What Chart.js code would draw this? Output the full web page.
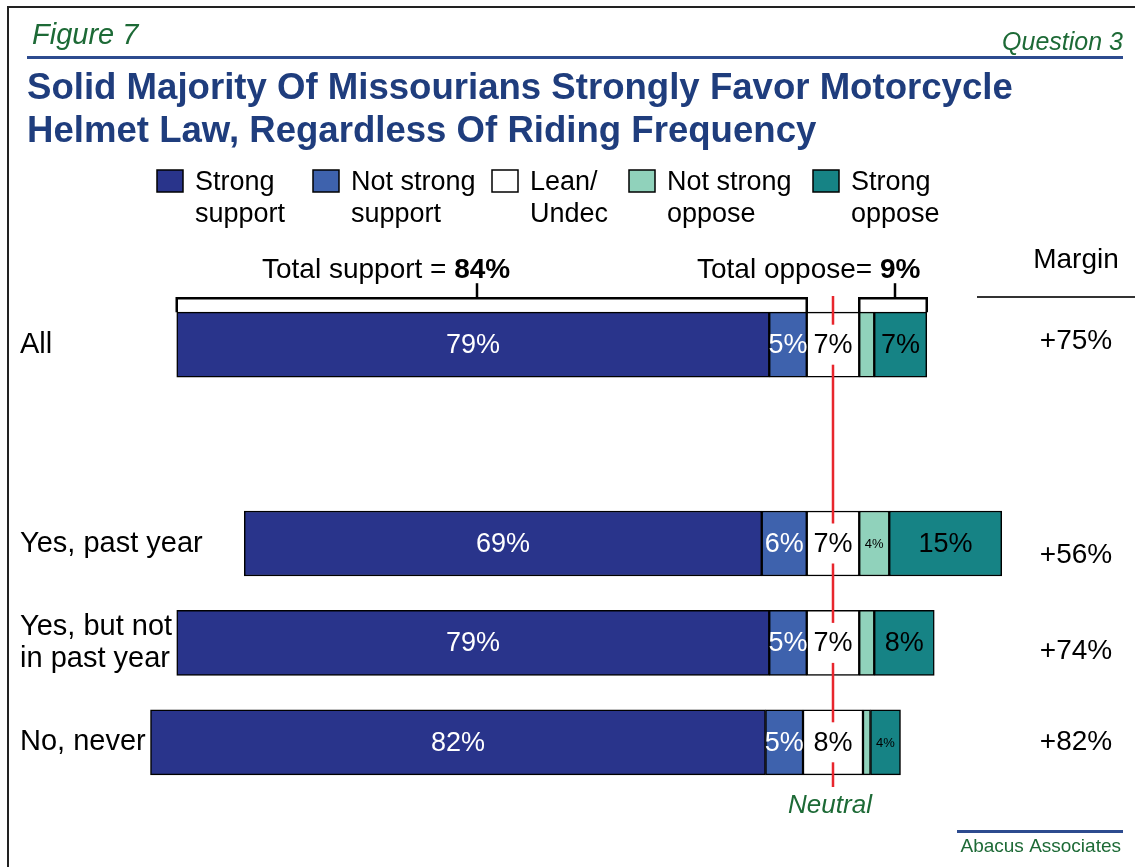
<!DOCTYPE html>
<html><head><meta charset="utf-8">
<script src="https://cdn.jsdelivr.net/npm/chart.js@4/dist/chart.umd.min.js"></script>
<style>html,body{margin:0;padding:0;background:#fff}#wrap{position:relative;width:1135px;height:867px}</style>
</head><body><div id="wrap"><canvas id="c"></canvas></div>
<script>
// ---- data ----
const categories = ['All', '', 'Yes, past year', ['Yes, but not', 'in past year'], 'No, never'];
const seriesNames = [['Strong', 'support'], ['Not strong', 'support'], ['Lean/', 'Undec'], ['Not strong', 'oppose'], ['Strong', 'oppose']];
const strongSupport    = [79, null, 69, 79, 82];
const notStrongSupport = [5,  null, 6,  5,  5];
const leanUndec        = [7,  null, 7,  7,  8];
const notStrongOppose  = [2,  null, 4,  2,  1];
const strongOppose     = [7,  null, 15, 8,  4];
const margins          = [75, null, 56, 74, 82];
const totalSupport = 84;
const totalOppose = 9;

// ---- styles ----
const FONT = '"Liberation Sans", Arial, Helvetica, sans-serif';
const colors = ['#29348b', '#3e62ad', '#ffffff', '#90d2bb', '#168385'];
const labelColors = ['#ffffff', '#ffffff', '#000000', '#000000', '#000000'];
const GREEN = '#1d6a36';
const BLUE_TITLE = '#1f3d7d';
const BLUE_RULE = '#2d4b8f';
const marginDy = [-3, 0, 12, 8, 0];

const series = [strongSupport, notStrongSupport, leanUndec, notStrongOppose, strongOppose];
const ranges = series.map(() => []);
categories.forEach((c, i) => {
  if (leanUndec[i] == null) { ranges.forEach(r => r.push(null)); return; }
  let start = -leanUndec[i] / 2 - notStrongSupport[i] - strongSupport[i];
  series.forEach((s, k) => { ranges[k].push([start, start + s[i]]); start += s[i]; });
});

const overlay = {
  id: 'overlay',
  afterDatasetsDraw(chart) {
    const ctx = chart.ctx, xs = chart.scales.x, area = chart.chartArea;
    const cx = xs.getPixelForValue(0);
    ctx.save();
    // neutral line
    ctx.strokeStyle = '#e8262d'; ctx.lineWidth = 2.5;
    ctx.beginPath(); ctx.moveTo(cx, area.top + 1); ctx.lineTo(cx, area.bottom - 5); ctx.stroke();
    // segment labels
    series.forEach((s, k) => {
      const meta = chart.getDatasetMeta(k);
      meta.data.forEach((el, i) => {
        const v = s[i];
        if (v == null || v < 3) return;
        const mx = (el.x + el.base) / 2, my = el.y;
        const small = v < 5;
        ctx.font = (small ? '13px ' : '27px ') + FONT;
        const txt = v + '%';
        if (k === 2) {
          const w = ctx.measureText(txt).width + 6;
          ctx.fillStyle = '#fff'; ctx.fillRect(mx - w / 2, my - 20, w, 40);
        }
        ctx.fillStyle = labelColors[k]; ctx.textAlign = 'center'; ctx.textBaseline = 'middle';
        ctx.fillText(txt, mx, my + 1);
      });
    });
    // brackets over the "All" bar
    const e0 = chart.getDatasetMeta(0).data[0], e1 = chart.getDatasetMeta(1).data[0];
    const e3 = chart.getDatasetMeta(3).data[0], e4 = chart.getDatasetMeta(4).data[0];
    const barTop = e0.y - e0.height / 2;
    const by = barTop - 14;
    ctx.strokeStyle = '#000'; ctx.lineWidth = 2.5; ctx.lineJoin = 'miter';
    const bracket = (x1, x2, tx) => {
      ctx.beginPath(); ctx.moveTo(x1, barTop); ctx.lineTo(x1, by); ctx.lineTo(x2, by); ctx.lineTo(x2, barTop); ctx.stroke();
      ctx.beginPath(); ctx.moveTo(tx, by); ctx.lineTo(tx, by - 15); ctx.stroke();
    };
    const sL = Math.min(e0.x, e0.base), sR = Math.max(e1.x, e1.base);
    const oL = Math.min(e3.x, e3.base), oR = Math.max(e4.x, e4.base);
    bracket(sL, sR, 477);
    bracket(oL, oR, (oL + oR) / 2 + 2);
    // margin column
    ctx.fillStyle = '#000'; ctx.textAlign = 'center'; ctx.textBaseline = 'middle';
    ctx.font = '28px ' + FONT;
    const ys = chart.getDatasetMeta(0).data;
    margins.forEach((m, i) => {
      if (m == null) return;
      ctx.fillText('+' + m + '%', 1076, ys[i].y + marginDy[i]);
    });
    ctx.restore();
  },
  afterDraw(chart) {
    const ctx = chart.ctx;
    ctx.save();
    // frame
    ctx.strokeStyle = '#222'; ctx.lineWidth = 2;
    ctx.beginPath(); ctx.moveTo(8, 867); ctx.lineTo(8, 7); ctx.lineTo(1135, 7); ctx.stroke();
    // header
    ctx.textBaseline = 'alphabetic';
    ctx.fillStyle = GREEN; ctx.textAlign = 'left';
    ctx.font = 'italic 29px ' + FONT; ctx.fillText('Figure 7', 32, 44);
    ctx.textAlign = 'right'; ctx.font = 'italic 25px ' + FONT; ctx.fillText('Question 3', 1123, 50);
    ctx.fillStyle = BLUE_RULE; ctx.fillRect(27, 56, 1096, 3);
    ctx.fillStyle = BLUE_TITLE; ctx.textAlign = 'left'; ctx.font = 'bold 36.6px ' + FONT;
    ctx.fillText('Solid Majority Of Missourians Strongly Favor Motorcycle', 27, 99);
    ctx.fillText('Helmet Law, Regardless Of Riding Frequency', 27, 142);
    // legend
    const lx = [157, 313, 492, 629, 813];
    ctx.font = '27px ' + FONT; ctx.textBaseline = 'middle';
    seriesNames.forEach((n, k) => {
      ctx.fillStyle = colors[k]; ctx.fillRect(lx[k], 170, 26, 22);
      ctx.strokeStyle = '#000'; ctx.lineWidth = 1.5; ctx.strokeRect(lx[k], 170, 26, 22);
      ctx.fillStyle = '#000';
      ctx.fillText(n[0], lx[k] + 38, 183);
      ctx.fillText(n[1], lx[k] + 38, 215);
    });
    // totals
    ctx.textBaseline = 'alphabetic';
    ctx.font = '28px ' + FONT;
    let t = 'Total support = ';
    ctx.fillText(t, 262, 278);
    let w = ctx.measureText(t).width;
    ctx.font = 'bold 28px ' + FONT; ctx.fillText(totalSupport + '%', 262 + w, 278);
    ctx.font = '28px ' + FONT;
    t = 'Total oppose= ';
    ctx.fillText(t, 697, 278);
    w = ctx.measureText(t).width;
    ctx.font = 'bold 28px ' + FONT; ctx.fillText(totalOppose + '%', 697 + w, 278);
    // margin header
    ctx.font = '28px ' + FONT; ctx.textAlign = 'center';
    ctx.fillText('Margin', 1076, 268);
    ctx.fillStyle = '#333'; ctx.fillRect(977, 296, 158, 2);
    // neutral
    ctx.fillStyle = GREEN; ctx.font = 'italic 26px ' + FONT;
    ctx.fillText('Neutral', 830, 813);
    // footer
    ctx.fillStyle = BLUE_RULE; ctx.fillRect(957, 830, 166, 3);
    ctx.fillStyle = GREEN; ctx.font = '19px ' + FONT; ctx.textAlign = 'right';
    ctx.fillText('Abacus Associates', 1121, 852);
    ctx.restore();
  }
};

new Chart(document.getElementById('c'), {
  type: 'bar',
  data: {
    labels: categories,
    datasets: series.map((s, k) => ({
      label: seriesNames[k].join(' '),
      data: ranges[k],
      backgroundColor: colors[k],
      borderColor: '#000',
      borderWidth: 1.5,
      borderSkipped: false,
      barThickness: 65,
      grouped: false,
      clip: false
    }))
  },
  options: {
    indexAxis: 'y',
    responsive: true,
    maintainAspectRatio: false,
    animation: false,
    layout: { padding: { left: 20, right: 95, top: 295, bottom: 75 } },
    plugins: { legend: { display: false }, tooltip: { enabled: false }, title: { display: false } },
    scales: {
      x: { type: 'linear', min: -83.0667, max: 27.6, display: false },
      y: {
        grid: { display: false },
        border: { display: false },
        afterFit: (scale) => { scale.width = 190; },
        ticks: {
          crossAlign: 'far',
          color: '#000',
          padding: 0,
          font: { family: FONT, size: 29, lineHeight: 1.1 }
        }
      }
    }
  },
  plugins: [overlay]
});
</script>
</body></html>
